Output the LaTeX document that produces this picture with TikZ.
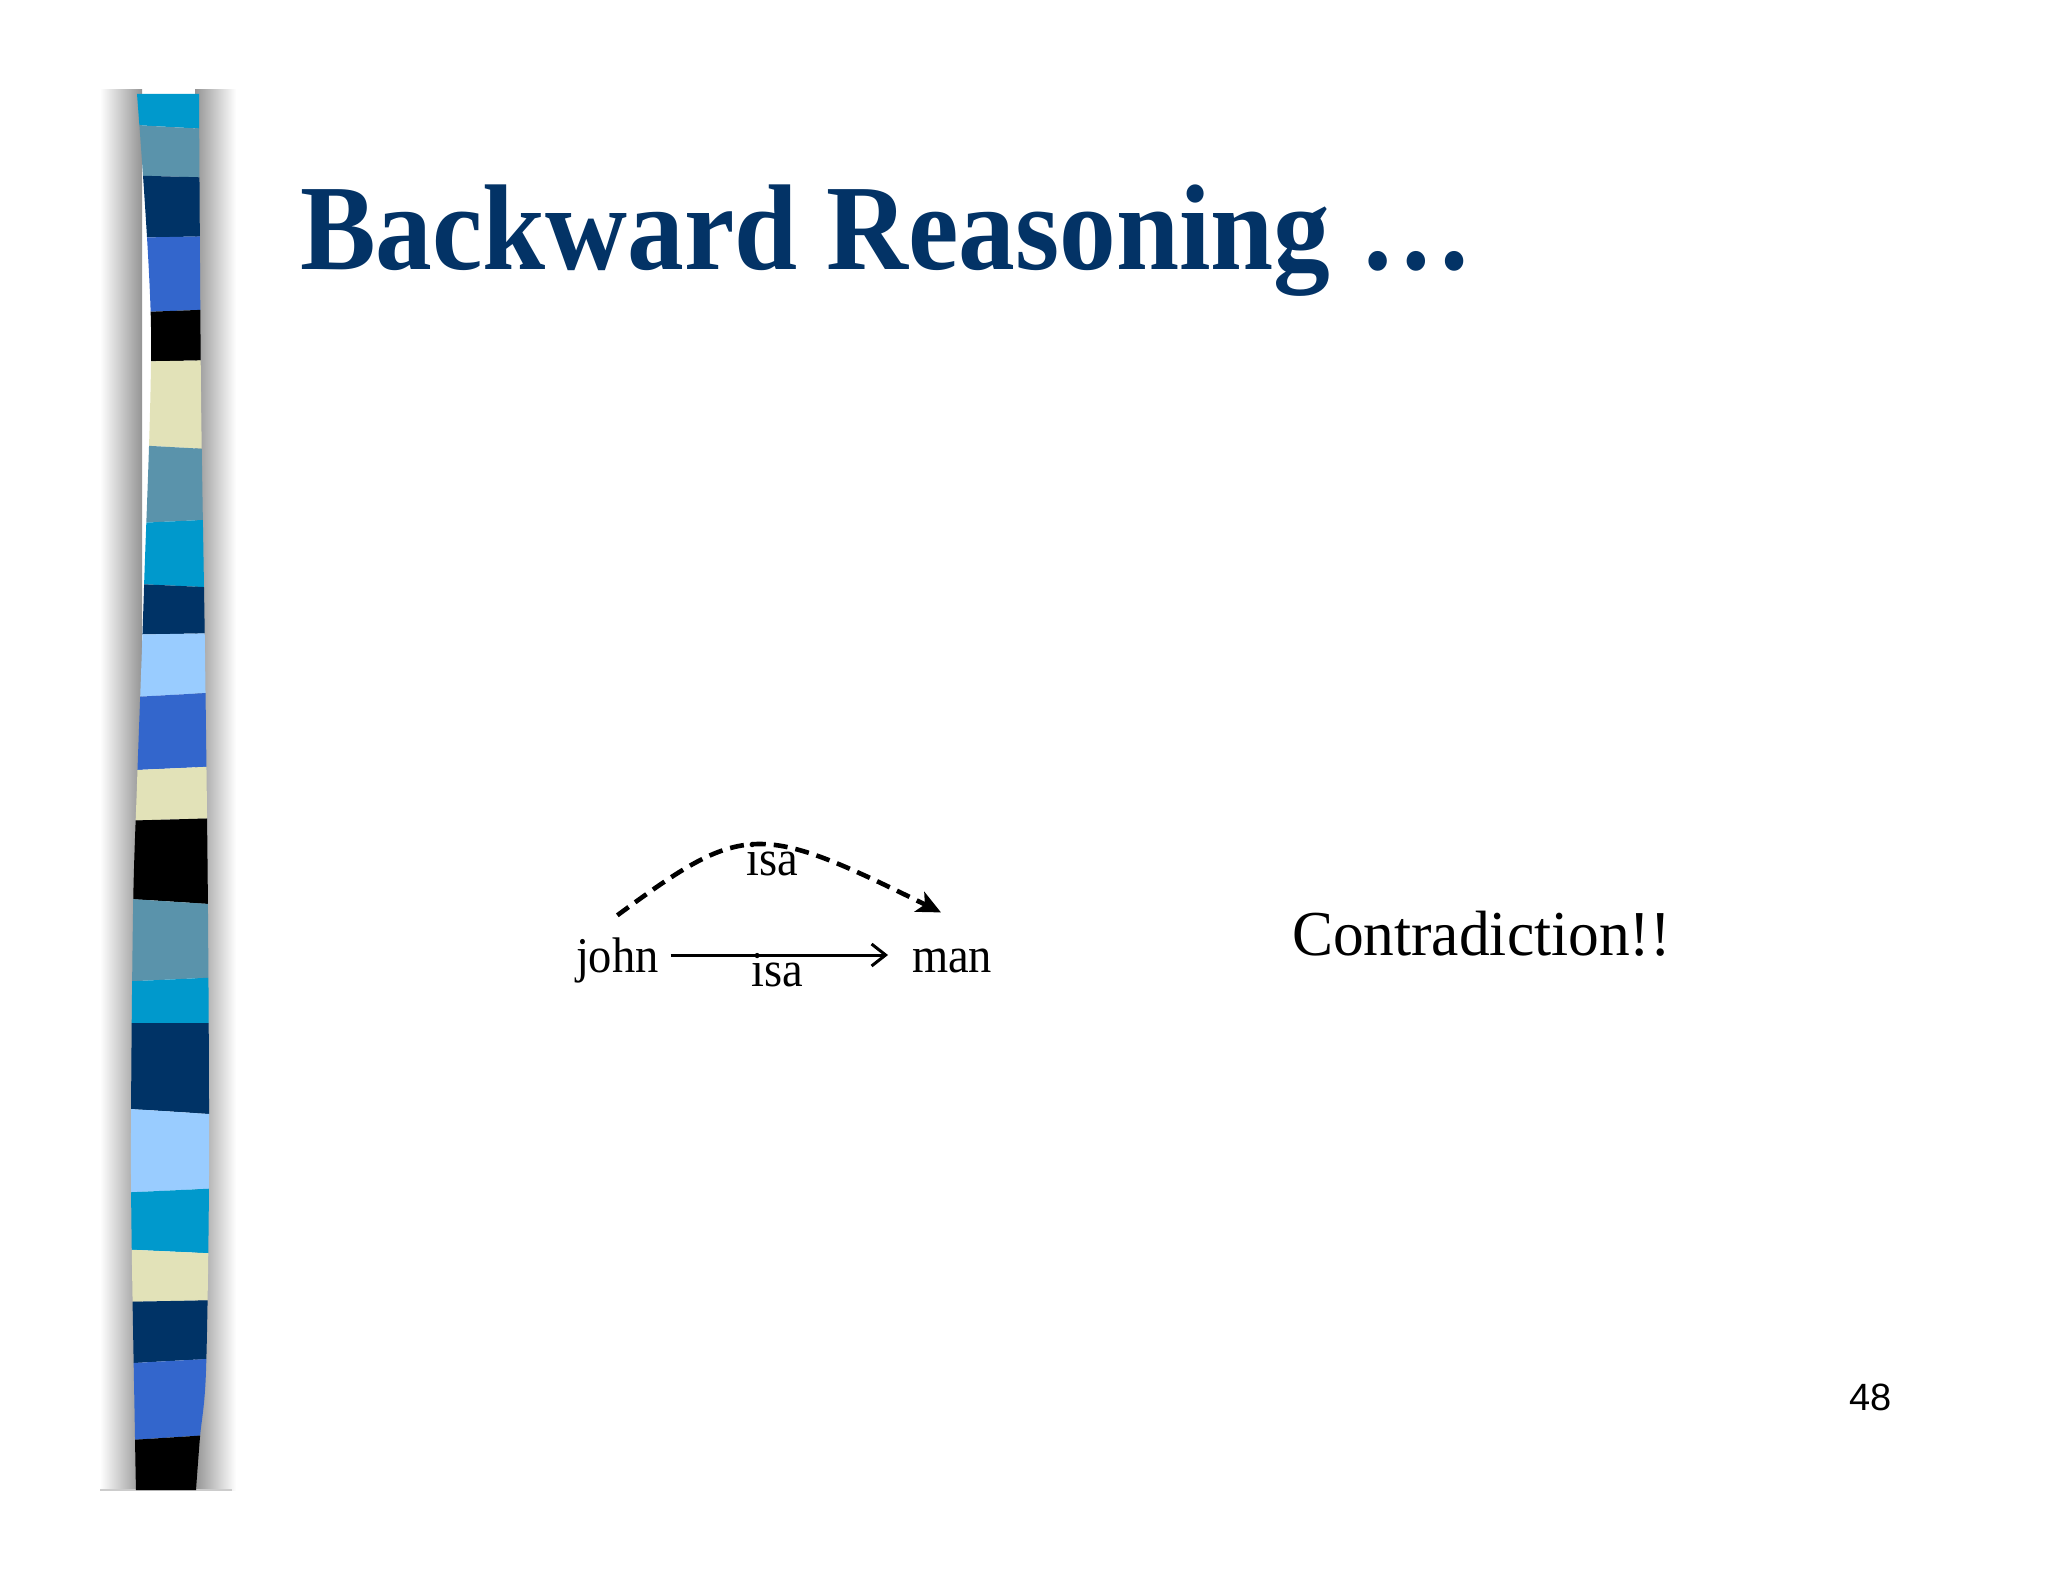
\documentclass[tikz,border=0pt]{standalone}
\usepackage{fontspec}
\usepackage{graphicx}
\setmainfont{Liberation Serif}
\newfontfamily\numfont{Liberation Sans}
\usetikzlibrary{arrows.meta}
\definecolor{titleblue}{HTML}{033366}
\definecolor{cyanC}{HTML}{0099CC}
\definecolor{steelC}{HTML}{5A93AB}
\definecolor{navyC}{HTML}{003366}
\definecolor{royalC}{HTML}{3366CC}
\definecolor{beigeC}{HTML}{E2E2B8}
\definecolor{lightC}{HTML}{99CCFF}
\newcommand{\sqz}[1]{\scalebox{0.93}[1]{#1}}
\tikzset{
  txt/.style={inner sep=0pt, outer sep=0pt, anchor=base},
  body/.style={txt, font=\fontsize{25}{28}\selectfont},
  solidarrow/.style={line width=1.5pt, -{Straight Barb[length=7pt,width=11pt,line width=1.5pt]}},
  dasharrow/.style={line width=2.3pt, dash pattern=on 7pt off 4pt, -{Stealth[length=12pt,width=11pt,inset=3pt]}}
}
\begin{document}
\begin{tikzpicture}[x=0.5pt,y=-0.5pt]
\useasboundingbox (0,0) rectangle (2048,1582);
\fill[white] (0,0) rectangle (2048,1582);
% shadow of the stripe
\shade[left color=white, right color=black!42] (100,90) rectangle (142,1490);
\shade[left color=black!42, right color=white] (195,90) rectangle (236,1490);
\draw[black!20, line width=0.8pt] (100,1490) -- (232,1490);
% stripe
\begin{scope}
\clip plot[smooth] coordinates {(137,94) (151,327) (144,588) (137,784) (133,914) (131,1175) (135,1437) (136,1490)}
  -- plot[smooth] coordinates {(196,1490) (200,1437) (206,1371) (209,1175) (208,914) (205,653) (201,392) (199,94)} -- cycle;
\foreach \ya/\yb/\yc/\yd/\col in {
  94/94/124/130/cyanC,
  124/130/175/178/steelC,
  175/178/238/236/navyC,
  238/236/313/309/royalC,
  313/309/362/360/black,
  362/360/444/450/beigeC,
  444/450/524/519/steelC,
  524/519/583/588/cyanC,
  583/588/635/633/navyC,
  635/633/698/692/lightC,
  698/692/771/766/royalC,
  771/766/821/818/beigeC,
  821/818/898/905/black,
  898/905/982/977/steelC,
  982/977/1023/1023/cyanC,
  1023/1023/1108/1115/navyC,
  1108/1115/1193/1188/lightC,
  1193/1188/1249/1254/cyanC,
  1249/1254/1302/1300/beigeC,
  1302/1300/1364/1358/navyC,
  1364/1358/1441/1434/royalC,
  1441/1434/1495/1495/black}
  {\fill[\col] (115,\ya) -- (225,\yb) -- (225,\yd) -- (115,\yc) -- cycle;}
\end{scope}
% title
\node[txt, anchor=base west, text=titleblue, font=\fontsize{61}{70}\selectfont\bfseries] (title) at (300,270) {\sqz{Backward Reasoning …}};
% diagram
\node[body, anchor=base west] (john) at (576,972) {\sqz{john}};
\node[body, anchor=base west] (man) at (912,972) {\sqz{man}};
\node[body] (isaTop) at (772,875) {\sqz{isa}};
\node[body] (isaBot) at (777,986) {\sqz{isa}};
\draw[solidarrow] ([xshift=6pt,yshift=8.5pt]john.base east) -- ([xshift=-12pt,yshift=8.5pt]man.base west);
\draw[dasharrow] ([yshift=11pt]john.north) .. controls (744,822) and (758,822) .. ([xshift=-5.5pt,yshift=18pt]man.north);
% contradiction
\node[txt, anchor=base west, font=\fontsize{32}{36}\selectfont] (contra) at (1292,955) {\scalebox{0.96}[1]{Contradiction!!}};
% page number
\node[txt, anchor=base west, font=\numfont\fontsize{19}{22}\selectfont] (pnum) at (1849,1410) {48};
\end{tikzpicture}
\end{document}
